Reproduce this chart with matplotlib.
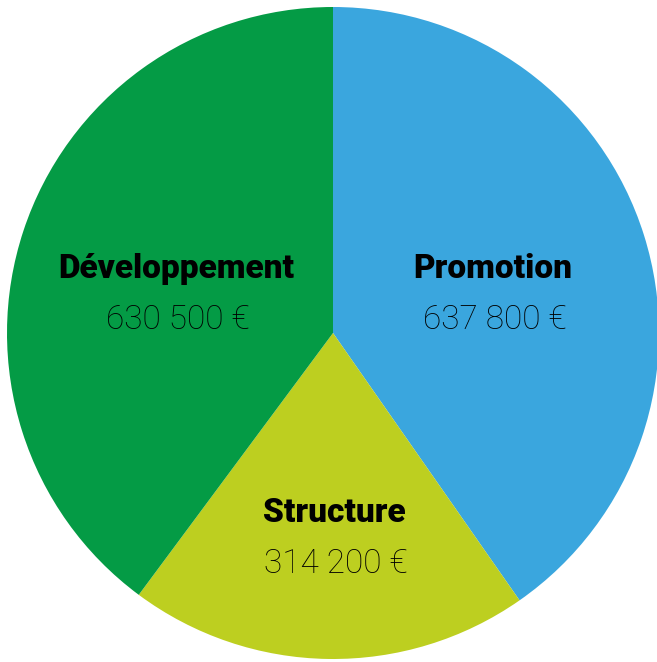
import matplotlib.pyplot as plt

labels = ['Promotion', 'Structure', 'Développement']
amounts = [637800, 314200, 630500]
colors = ['#3aa6de', '#bdcf20', '#049b45']


def euro(v):
    return f'{v:,}'.replace(',', ' ') + ' €'


fig = plt.figure(figsize=(6.57, 6.62), dpi=100)
ax = fig.add_axes([0, 0, 1, 1])

# pie in pixel coords, starting at 12 o'clock and going clockwise
ax.pie(amounts, colors=colors, startangle=90, counterclock=False,
       center=(333, 329), radius=326, frame=True,
       wedgeprops=dict(linewidth=0))
ax.set_xlim(0, 657)
ax.set_ylim(0, 662)
ax.set_aspect('equal')
ax.axis('off')

# label anchor positions (pixels, y measured from bottom)
label_pos = [(493, 393), (334, 149), (176, 393)]
for name, val, (x, y) in zip(labels, amounts, label_pos):
    ax.text(x, y, name, ha='center', va='center', fontsize=24,
            fontweight='heavy', family=['Roboto', 'DejaVu Sans'],
            color='black')
    ax.text(x + 2, y - 51, euro(val), ha='center', va='center', fontsize=24,
            fontweight='light', family=['Roboto', 'DejaVu Sans'],
            color='black')

fig.savefig('out.png', dpi=100)
